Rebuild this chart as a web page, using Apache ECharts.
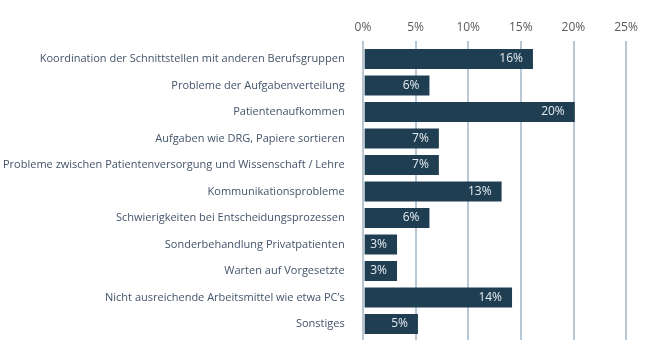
<!DOCTYPE html>
<html>
<head>
<meta charset="utf-8">
<script src="https://cdn.jsdelivr.net/npm/echarts@6/dist/echarts.min.js"></script>
<style>
html, body { margin: 0; padding: 0; background: #fff; }
#chart { width: 646px; height: 354px; }
</style>
</head>
<body>
<div id="chart"></div>
<script>
// Kategorien von oben nach unten
var categories = [
    'Koordination der Schnittstellen mit anderen Berufsgruppen',
    'Probleme der Aufgabenverteilung',
    'Patientenaufkommen',
    'Aufgaben wie DRG, Papiere sortieren',
    'Probleme zwischen Patientenversorgung und Wissenschaft / Lehre',
    'Kommunikationsprobleme',
    'Schwierigkeiten bei Entscheidungsprozessen',
    'Sonderbehandlung Privatpatienten',
    'Warten auf Vorgesetzte',
    'Nicht ausreichende Arbeitsmittel wie etwa PC\u2019s',
    'Sonstiges'
];
var values = [16.1, 6.2, 20.1, 7.1, 7.1, 13.1, 6.2, 3.1, 3.1, 14.1, 5.1];
var tickMax = 25;
var tickStep = 5;

var FONT = '"Open Sans", sans-serif';

var chart = echarts.init(document.getElementById('chart'));
chart.setOption({
    animation: false,
    grid: [
        { left: 363, right: 20, top: 45.75, bottom: 16.75 }, // Balken
        { left: 363, right: 20, top: 41, bottom: 14 }        // Gitterlinien + Achse
    ],
    xAxis: [{
        gridIndex: 0,
        type: 'value',
        min: 0, max: tickMax, interval: tickStep,
        show: false
    }, {
        gridIndex: 1,
        type: 'value',
        position: 'top',
        min: 0, max: tickMax, interval: tickStep,
        axisLine: { show: false },
        axisTick: { show: false },
        axisLabel: {
            margin: 7,
            color: '#595959',
            fontFamily: FONT,
            fontSize: 12,
            formatter: '{value}%'
        },
        splitLine: { lineStyle: { color: '#b7c7d3', width: 2 } }
    }],
    yAxis: [{
        gridIndex: 0,
        type: 'category',
        inverse: true,
        data: categories,
        axisLine: { show: false },
        axisTick: { show: false },
        axisLabel: {
            margin: 20,
            color: '#44546a',
            fontFamily: FONT,
            fontSize: 11
        }
    }, {
        gridIndex: 1,
        type: 'category',
        data: [''],
        show: false
    }],
    series: [{
        type: 'bar',
        xAxisIndex: 0,
        yAxisIndex: 0,
        data: values,
        barWidth: 20,
        itemStyle: { color: '#203e52' },
        label: {
            show: true,
            position: 'insideRight',
            distance: 10,
            color: '#e6edf2',
            fontFamily: FONT,
            fontSize: 12,
            formatter: function (p) { return Math.round(p.value) + '%'; }
        }
    }]
});
</script>
</body>
</html>
